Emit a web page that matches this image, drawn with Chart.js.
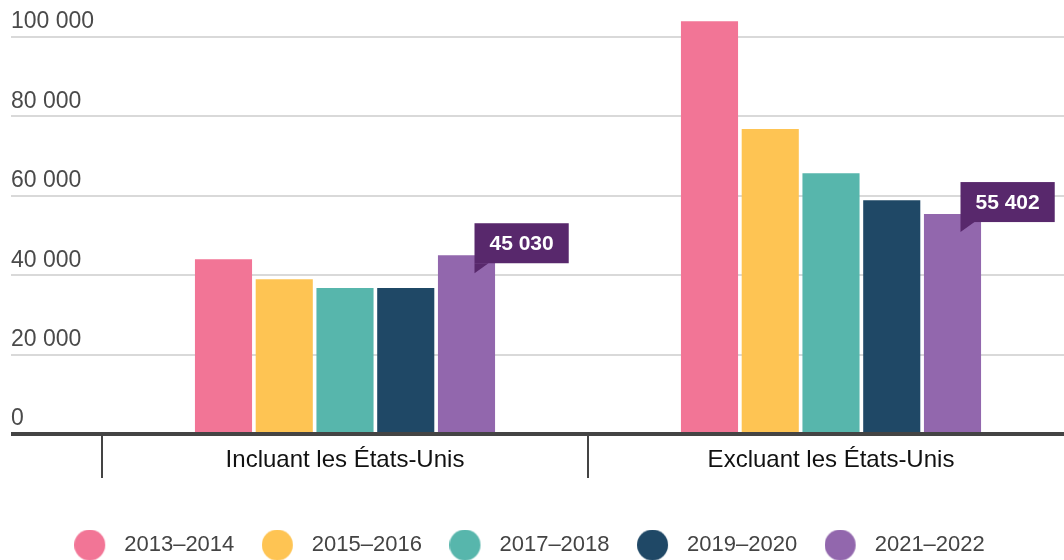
<!DOCTYPE html>
<html lang="fr">
<head>
<meta charset="UTF-8">
<title>Incluant / Excluant les États-Unis</title>
<script src="https://cdn.jsdelivr.net/npm/chart.js"></script>
<style>
  html, body { margin: 0; padding: 0; background: #fff; }
  #wrap { width: 1064px; height: 560px; }
</style>
</head>
<body>
<div id="wrap"><canvas id="chart" width="1064" height="560"></canvas></div>
<script>
const categories = ['Incluant les États-Unis', 'Excluant les États-Unis'];
const periods = ['2013–2014', '2015–2016', '2017–2018', '2019–2020', '2021–2022'];
const values2013 = [44000, 104000];
const values2015 = [39000, 76800];
const values2017 = [36800, 65700];
const values2019 = [36800, 58900];
const values2021 = [45030, 55402];
const yTicks = [0, 20000, 40000, 60000, 80000, 100000];
const colors = ['#f27596', '#fec453', '#57b6ac', '#1f4866', '#9267ad'];
const labelBg = '#58286c';
const font = '"Liberation Sans", Arial, sans-serif';

const fmt = v => String(v).replace(/\B(?=(\d{3})+(?!\d))/g, ' ');

// legend dot: circle on the left of a slightly wider canvas, to space text like the original
function makeDot(color) {
  const c = document.createElement('canvas');
  c.width = 39; c.height = 31;
  const g = c.getContext('2d');
  g.fillStyle = color;
  g.beginPath();
  g.arc(15.5, 15.5, 15.5, 0, Math.PI * 2);
  g.fill();
  return c;
}

// the original plot runs a little past the right edge of the picture
const widenX = {
  id: 'widenX',
  afterLayout(chart) {
    const x = chart.scales.x;
    x.right = x.left + 972;
    x.width = 972;
    x.configure();
    chart.legend.left -= 8;
    chart.legend.right -= 8;
  }
};

// value box with a small tail for the last period
const valueBoxes = {
  id: 'valueBoxes',
  afterDatasetsDraw(chart) {
    const { ctx } = chart;
    const last = chart.data.datasets.length - 1;
    const meta = chart.getDatasetMeta(last);
    ctx.save();
    ctx.font = 'bold 21px ' + font;
    meta.data.forEach((bar, i) => {
      const text = fmt(chart.data.datasets[last].data[i]);
      const tipX = bar.x + 8;
      const tipY = bar.y + 18;
      const w = ctx.measureText(text).width + 30;
      const h = 40;
      const top = tipY - 10 - h;
      ctx.fillStyle = labelBg;
      ctx.fillRect(tipX, top, w, h);
      ctx.beginPath();
      ctx.moveTo(tipX, top + h);
      ctx.lineTo(tipX, tipY);
      ctx.lineTo(tipX + 14, top + h);
      ctx.closePath();
      ctx.fill();
      ctx.fillStyle = '#fff';
      ctx.textAlign = 'center';
      ctx.textBaseline = 'middle';
      ctx.fillText(text, tipX + w / 2, top + h / 2 + 1);
    });
    ctx.restore();
  }
};

const seriesValues = [values2013, values2015, values2017, values2019, values2021];

new Chart(document.getElementById('chart'), {
  type: 'bar',
  data: {
    labels: categories,
    datasets: periods.map((p, i) => ({
      label: p,
      data: seriesValues[i],
      backgroundColor: colors[i],
      borderWidth: 0,
      barPercentage: 0.94,
      categoryPercentage: 0.625
    }))
  },
  options: {
    responsive: false,
    animation: false,
    layout: { padding: { left: 11, right: 0, top: 14, bottom: -6 } },
    plugins: {
      tooltip: { enabled: false },
      legend: {
        position: 'bottom',
        labels: {
          usePointStyle: true,
          pointStyleWidth: 39,
          padding: 27.5,
          color: '#444',
          font: { family: font, size: 22 },
          generateLabels(chart) {
            const items = Chart.defaults.plugins.legend.labels.generateLabels(chart);
            items.forEach(it => { it.pointStyle = makeDot(it.fillStyle); });
            return items;
          }
        }
      }
    },
    scales: {
      x: {
        z: 1,
        border: { display: true, color: '#444', width: 4 },
        grid: {
          offset: true,
          drawOnChartArea: false,
          color: '#444',
          lineWidth: 2,
          tickLength: 44
        },
        ticks: {
          padding: -32,
          color: '#111',
          font: { family: font, size: 24 }
        },
        afterFit: s => { s.height = 72.5; }
      },
      y: {
        min: 0,
        max: 105800,
        border: { display: false },
        grid: {
          color: c => (c.tick && c.tick.value === 0 ? '#444' : '#d9d9d9'),
          lineWidth: c => (c.tick && c.tick.value === 0 ? 4 : 2),
          tickLength: 91
        },
        ticks: {
          stepSize: 20000,
          crossAlign: 'far',
          labelOffset: -15,
          padding: 0,
          color: '#4a4a4a',
          font: { family: font, size: 23 },
          callback: v => fmt(v)
        },
        afterBuildTicks: s => { s.ticks = yTicks.map(v => ({ value: v })); },
        afterFit: s => { s.width = 91; }
      }
    }
  },
  plugins: [widenX, valueBoxes]
});
</script>
</body>
</html>
